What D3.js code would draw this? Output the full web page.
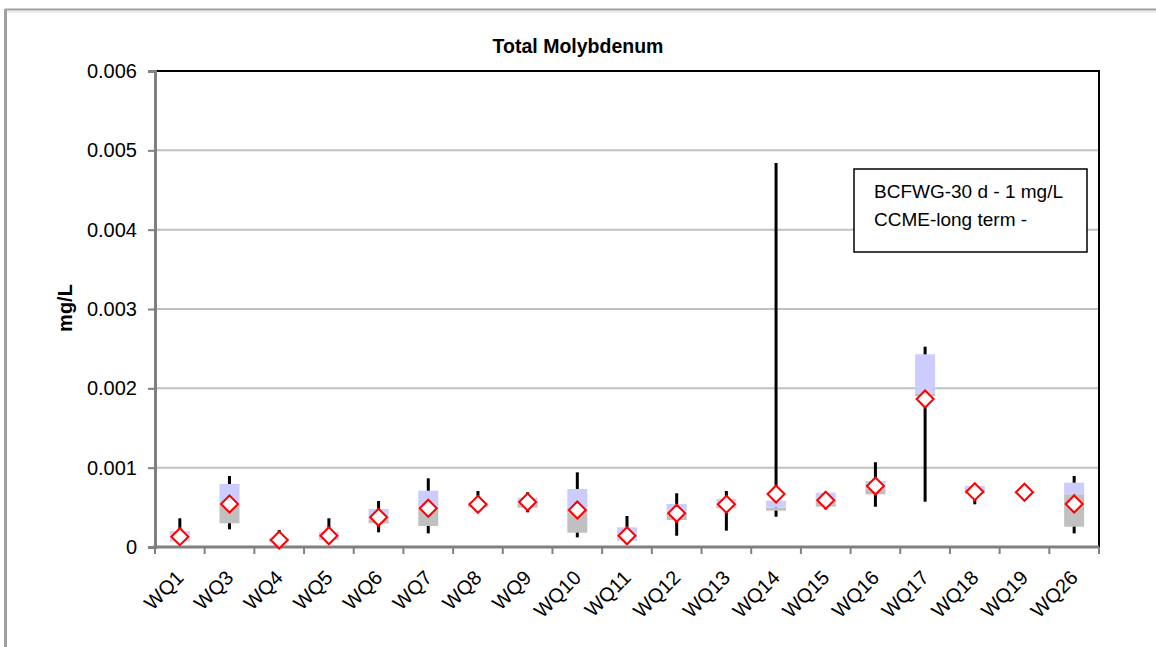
<!DOCTYPE html>
<html>
<head>
<meta charset="utf-8">
<script src="https://cdn.jsdelivr.net/npm/d3@7"></script>
<style>
  html, body { margin: 0; padding: 0; background: #fff; }
  svg { display: block; }
  text { font-family: "Liberation Sans", Arial, sans-serif; fill: #000; }
</style>
</head>
<body>
<svg id="chart" width="1156" height="647"></svg>
<script>
// Sampling stations
const categories = ["WQ1","WQ3","WQ4","WQ5","WQ6","WQ7","WQ8","WQ9","WQ10","WQ11",
                    "WQ12","WQ13","WQ14","WQ15","WQ16","WQ17","WQ18","WQ19","WQ26"];
// Total molybdenum summary statistics (mg/L)
const minV   = [0.00005, 0.000223, 0.00004, 0.00005, 0.000185, 0.000172, 0.00049, 0.000437, 0.000122, 0.00006,
                0.000142, 0.000206, 0.000382, 0.000475, 0.000508, 0.000571, 0.000538, 0.00068, 0.000172];
const q1V    = [0.000067, 0.000299, 0.00006, 0.00009, 0.000299, 0.000265, 0.0005, 0.000496, 0.00018, 0.000076,
                0.00034, 0.000488, 0.000458, 0.000508, 0.000664, 0.0019, 0.000668, 0.00067, 0.000256];
const medV   = [0.00007, 0.000551, 0.00007, 0.0001, 0.00034, 0.000488, 0.00053, 0.00055, 0.000488, 0.00008,
                0.000416, 0.00053, 0.000495, 0.000571, 0.00074, 0.00193, 0.00073, 0.00068, 0.000664];
const q3V    = [0.0002, 0.000794, 0.00011, 0.00019, 0.000479, 0.00071, 0.00056, 0.000622, 0.000731, 0.000248,
                0.000542, 0.000605, 0.000584, 0.000685, 0.000832, 0.002429, 0.00077, 0.0007, 0.000811];
const maxV   = [0.000362, 0.000895, 0.000214, 0.000362, 0.00058, 0.000866, 0.000706, 0.00069, 0.000941, 0.000391,
                0.000677, 0.000706, 0.00484, 0.00068, 0.001068, 0.002525, 0.00077, 0.0007, 0.000895];
const meanV  = [0.00013, 0.000542, 0.000088, 0.000142, 0.000374, 0.000488, 0.000538, 0.000567, 0.000466, 0.000142,
                0.000425, 0.000538, 0.000668, 0.000589, 0.000769, 0.001866, 0.000697, 0.00069, 0.000542];
const yTicks = [0, 0.001, 0.002, 0.003, 0.004, 0.005, 0.006];
const legendLines = ["BCFWG-30 d - 1 mg/L", "CCME-long term -"];

const rows = categories.map((c, i) => ({
  cat: c, min: minV[i], q1: q1V[i], med: medV[i], q3: q3V[i], max: maxV[i], mean: meanV[i]
}));

const svg = d3.select("#chart");
const plot = { left: 155, top: 71, right: 1099, bottom: 547 };

// Outer chart frame
svg.append("line").attr("x1", 5).attr("x2", 1156).attr("y1", 9.5).attr("y2", 9.5)
  .attr("stroke", "#a0a0a0").attr("stroke-width", 2);
svg.append("line").attr("x1", 5).attr("x2", 1156).attr("y1", 12).attr("y2", 12)
  .attr("stroke", "#d8d8d8").attr("stroke-width", 1);
svg.append("line").attr("x1", 5.5).attr("x2", 5.5).attr("y1", 9).attr("y2", 647)
  .attr("stroke", "#a0a0a0").attr("stroke-width", 3);

const x = d3.scaleBand().domain(categories).range([plot.left, plot.right]).padding(0);
const y = d3.scaleLinear().domain([0, 0.006]).range([plot.bottom, plot.top]);

// Gridlines
svg.append("g").selectAll("line").data(yTicks.filter(t => t > 0 && t < 0.006)).join("line")
  .attr("x1", plot.left).attr("x2", plot.right)
  .attr("y1", d => y(d)).attr("y2", d => y(d))
  .attr("stroke", "#c0c0c0").attr("stroke-width", 2);

// Plot border (top and right)
svg.append("path")
  .attr("d", `M${plot.left},${y(0.006)}H${plot.right}V${plot.bottom}`)
  .attr("fill", "none").attr("stroke", "#000").attr("stroke-width", 2);

// Y axis
const yAxis = svg.append("g").attr("transform", `translate(${plot.left},0)`)
  .call(d3.axisLeft(y).tickValues(yTicks)
    .tickFormat(d => d === 0 ? "0" : d3.format(".3f")(d))
    .tickSize(7).tickPadding(11));
yAxis.select(".domain").attr("stroke", "#808080").attr("stroke-width", 3);
yAxis.selectAll(".tick line").attr("stroke", "#808080").attr("stroke-width", 2);
yAxis.selectAll(".tick text").attr("font-size", 20).attr("font-family", "Liberation Sans, Arial, sans-serif");

// X axis: line, boundary ticks, rotated labels
const xg = svg.append("g");
const bounds = categories.map(c => x(c)).concat([x.range()[1]]);
xg.selectAll("line.tk").data(bounds).join("line").attr("class", "tk")
  .attr("x1", d => d).attr("x2", d => d)
  .attr("y1", plot.bottom).attr("y2", plot.bottom + 7)
  .attr("stroke", "#808080").attr("stroke-width", 2);
xg.append("line").attr("x1", plot.left - 1.5).attr("x2", plot.right)
  .attr("y1", plot.bottom).attr("y2", plot.bottom)
  .attr("stroke", "#808080").attr("stroke-width", 3);
xg.selectAll("text").data(categories).join("text")
  .attr("transform", d => `translate(${x(d) + x.bandwidth() / 2 + 5},${plot.bottom + 32}) rotate(-45)`)
  .attr("text-anchor", "end")
  .attr("font-size", 20)
  .text(d => d);

// Whiskers (min to max)
const bw = 20;
svg.append("g").selectAll("line").data(rows).join("line")
  .attr("x1", d => x(d.cat) + x.bandwidth() / 2).attr("x2", d => x(d.cat) + x.bandwidth() / 2)
  .attr("y1", d => y(d.min)).attr("y2", d => y(d.max))
  .attr("stroke", "#000").attr("stroke-width", 3);

// Lower box: Q1 to median
svg.append("g").selectAll("rect").data(rows).join("rect")
  .attr("x", d => x(d.cat) + x.bandwidth() / 2 - bw / 2).attr("width", bw)
  .attr("y", d => y(d.med)).attr("height", d => y(d.q1) - y(d.med))
  .attr("fill", "#c0c0c0");

// Upper box: median to Q3
svg.append("g").selectAll("rect").data(rows).join("rect")
  .attr("x", d => x(d.cat) + x.bandwidth() / 2 - bw / 2).attr("width", bw)
  .attr("y", d => y(d.q3)).attr("height", d => y(d.med) - y(d.q3))
  .attr("fill", "#ccccff");

// Mean markers
const s = 8.5;
svg.append("g").selectAll("path").data(rows).join("path")
  .attr("transform", d => `translate(${x(d.cat) + x.bandwidth() / 2},${y(d.mean)})`)
  .attr("d", `M0,${-s}L${s},0L0,${s}L${-s},0Z`)
  .attr("fill", "#fff").attr("stroke", "#ff0000").attr("stroke-width", 2);

// Title and axis label
svg.append("text").attr("x", 578).attr("y", 53).attr("text-anchor", "middle")
  .attr("font-size", 19.5).attr("font-weight", "bold").text("Total Molybdenum");
svg.append("text").attr("transform", "translate(72,308) rotate(-90)")
  .attr("text-anchor", "middle").attr("font-size", 20).attr("font-weight", "bold").text("mg/L");

// Guideline legend box
const lg = svg.append("g");
lg.append("rect").attr("x", 854).attr("y", 169).attr("width", 233).attr("height", 83)
  .attr("fill", "#fff").attr("stroke", "#000").attr("stroke-width", 1.5);
lg.selectAll("text").data(legendLines).join("text")
  .attr("x", 874).attr("y", (d, i) => 198 + i * 28)
  .attr("font-family", "Lato, 'Open Sans', sans-serif")
  .attr("font-size", 19)
  .text(d => d);
</script>
</body>
</html>
